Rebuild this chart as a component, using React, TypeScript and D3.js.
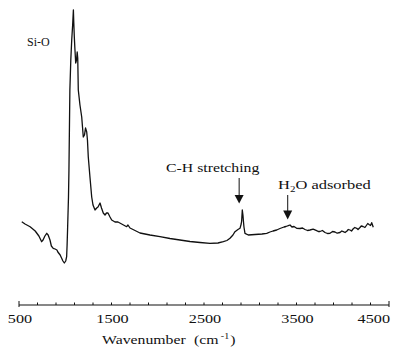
import React from "react";
import * as d3 from "d3";

// Wavenumber (cm^-1) of each sampled point of the spectrum
const wavenumbers = [
  530, 565, 620, 675, 715, 745, 760, 780, 800, 815, 835, 850, 870, 890, 910, 920, 945, 960, 975, 990,
  1005, 1015, 1020, 1025, 1035, 1040, 1050, 1060, 1070, 1080, 1088, 1092, 1098, 1105, 1113, 1122, 1129,
  1135, 1141, 1159, 1178, 1195, 1208, 1219, 1232, 1240, 1249, 1268, 1286, 1300, 1322, 1340, 1354, 1376,
  1392, 1411, 1430, 1446, 1462, 1484, 1502, 1538, 1570, 1610, 1664, 1678, 1700, 1808, 1916, 2024, 2132,
  2240, 2349, 2457, 2565, 2651, 2709, 2748, 2781, 2813, 2835, 2867, 2889, 2902, 2907, 2914, 2921, 2927,
  2932, 2943, 2979, 3051, 3127, 3178, 3213, 3246, 3286, 3321, 3365, 3386, 3411, 3430, 3451, 3473, 3502,
  3538, 3565, 3592, 3620, 3646, 3680, 3718, 3735, 3754, 3780, 3808, 3835, 3862, 3890, 3916, 3940, 3970,
  3990, 4006, 4025, 4046, 4060, 4078, 4095, 4111, 4130, 4151, 4165, 4186, 4200, 4219, 4240, 4259, 4270,
  4284, 4300, 4313, 4330,
];

// Absorbance (arbitrary units) at each wavenumber
const absorbance = [
  48.3, 46, 43.3, 39, 34, 28.3, 30, 34, 36.7, 35, 30, 24, 21.7, 21, 20, 18, 15, 12, 9, 7,
  9, 13.3, 25, 40, 73, 100, 180, 210, 230, 245, 260, 248, 233, 220, 207, 210, 218,
  212, 180, 165, 153, 133, 135, 142, 138, 130, 113, 92, 73, 65, 60, 62, 63, 67,
  62, 57, 55, 57, 57, 53, 50, 48, 48, 46, 43.3, 45, 42, 37, 35, 33.3, 31.5,
  30, 28.5, 27.5, 26.7, 27, 28.3, 29.5, 31.7, 35, 38.3, 40.5, 41.7, 46, 49, 60, 55, 48,
  43, 36.7, 35, 35.5, 36, 36.7, 38, 39, 40, 41.5, 43, 43.5, 44.3, 45, 43, 43.5, 41.7,
  41.5, 42, 40.5, 39.5, 40, 40.8, 39.3, 38.5, 38.5, 39.5, 37.5, 36.5, 36.7, 38.5, 38, 36.8, 37.5,
  39, 38.3, 37.5, 39, 40.5, 40, 39, 41, 42.5, 41.7, 40.5, 42.5, 44, 43.5, 42.5, 45, 46.5,
  45.5, 44.5, 47.3, 42.7,
];

const tickValues = [500, 1500, 2500, 3500, 4500];
const minorTicks = d3.range(500, 4501, 200);

const peakLabel = "Si-O";
const annotations = [
  { name: "C-H stretching", wavenumber: 2880 },
  { name: "H2O adsorbed", wavenumber: 3405 },
];

const W = 393;
const H = 352;
const FONT = "'Liberation Serif', 'Times New Roman', serif";
const SX = 1.2;

function Stretched({ x, y, anchor = "middle", size = 13.5, sx = SX, children }: any) {
  return (
    <g transform={`translate(${x},${y}) scale(${sx},1)`}>
      <text x={0} y={0} textAnchor={anchor} fontFamily={FONT} fontSize={size} fill="#111">
        {children}
      </text>
    </g>
  );
}

export default function App() {
  const x = d3.scaleLinear().domain([500, 4500]).range([19, 389]);
  const y = d3.scaleLinear().domain([0, 260]).range([270, 10]);
  const axisY = 305;

  const pts: [number, number][] = wavenumbers.map((w, i) => [w, absorbance[i]]);
  const line = d3
    .line<[number, number]>()
    .x((d) => x(d[0]))
    .y((d) => y(d[1]))
    .curve(d3.curveLinear);

  const chX = x(annotations[0].wavenumber);
  const h2oX = x(annotations[1].wavenumber);

  return (
    <svg
      width={W}
      height={H}
      viewBox={`0 0 ${W} ${H}`}
      style={{ position: "absolute", left: 0, top: 0, background: "#fff", display: "block" }}
    >
      <rect x={0} y={0} width={W} height={H} fill="#fff" />
      {/* spectrum */}
      <path d={line(pts) || ""} fill="none" stroke="#111" strokeWidth={1.3} strokeLinejoin="round" />

      {/* x axis */}
      <line x1={x(500)} x2={x(4500)} y1={axisY} y2={axisY} stroke="#111" strokeWidth={1.2} />
      {minorTicks.map((t) => {
        const end = t === 500 || t === 4500;
        return (
          <line
            key={t}
            x1={x(t)}
            x2={x(t)}
            y1={axisY + (end ? 2 : 0)}
            y2={axisY - (end ? 4 : 2.5)}
            stroke="#111"
            strokeWidth={1}
          />
        );
      })}
      {tickValues.map((t, i) => (
        <Stretched
          key={t}
          x={i === tickValues.length - 1 ? x(t) + 1 : x(t) + 1}
          y={323}
          anchor={i === tickValues.length - 1 ? "end" : "middle"}
        >
          {String(t)}
        </Stretched>
      ))}
      <Stretched x={102} y={344} anchor="start" sx={1.17}>
        <tspan>Wavenumber</tspan>
        <tspan dx={7}>(cm</tspan>
        <tspan dx={2} dy={-5} fontSize={8.5}>-1</tspan>
        <tspan dx={1} dy={5}>)</tspan>
      </Stretched>

      {/* labels */}
      <Stretched x={27} y={46} anchor="start" size={12} sx={1}>
        {peakLabel}
      </Stretched>

      <Stretched x={166} y={172} anchor="start" sx={1.17}>
        {annotations[0].name}
      </Stretched>
      <line x1={chX} x2={chX} y1={178} y2={196} stroke="#111" strokeWidth={1} />
      <path d={`M${chX - 4.5},195 L${chX + 4.5},195 L${chX},203.5 Z`} fill="#111" />

      <Stretched x={278} y={189} anchor="start" sx={1.22}>
        <tspan>H</tspan>
        <tspan dy={3} fontSize={9}>2</tspan>
        <tspan dy={-3}>O adsorbed</tspan>
      </Stretched>
      <line x1={h2oX} x2={h2oX} y1={195} y2={211} stroke="#111" strokeWidth={1} />
      <path d={`M${h2oX - 4.5},210.5 L${h2oX + 4.5},210.5 L${h2oX},219.5 Z`} fill="#111" />
    </svg>
  );
}
